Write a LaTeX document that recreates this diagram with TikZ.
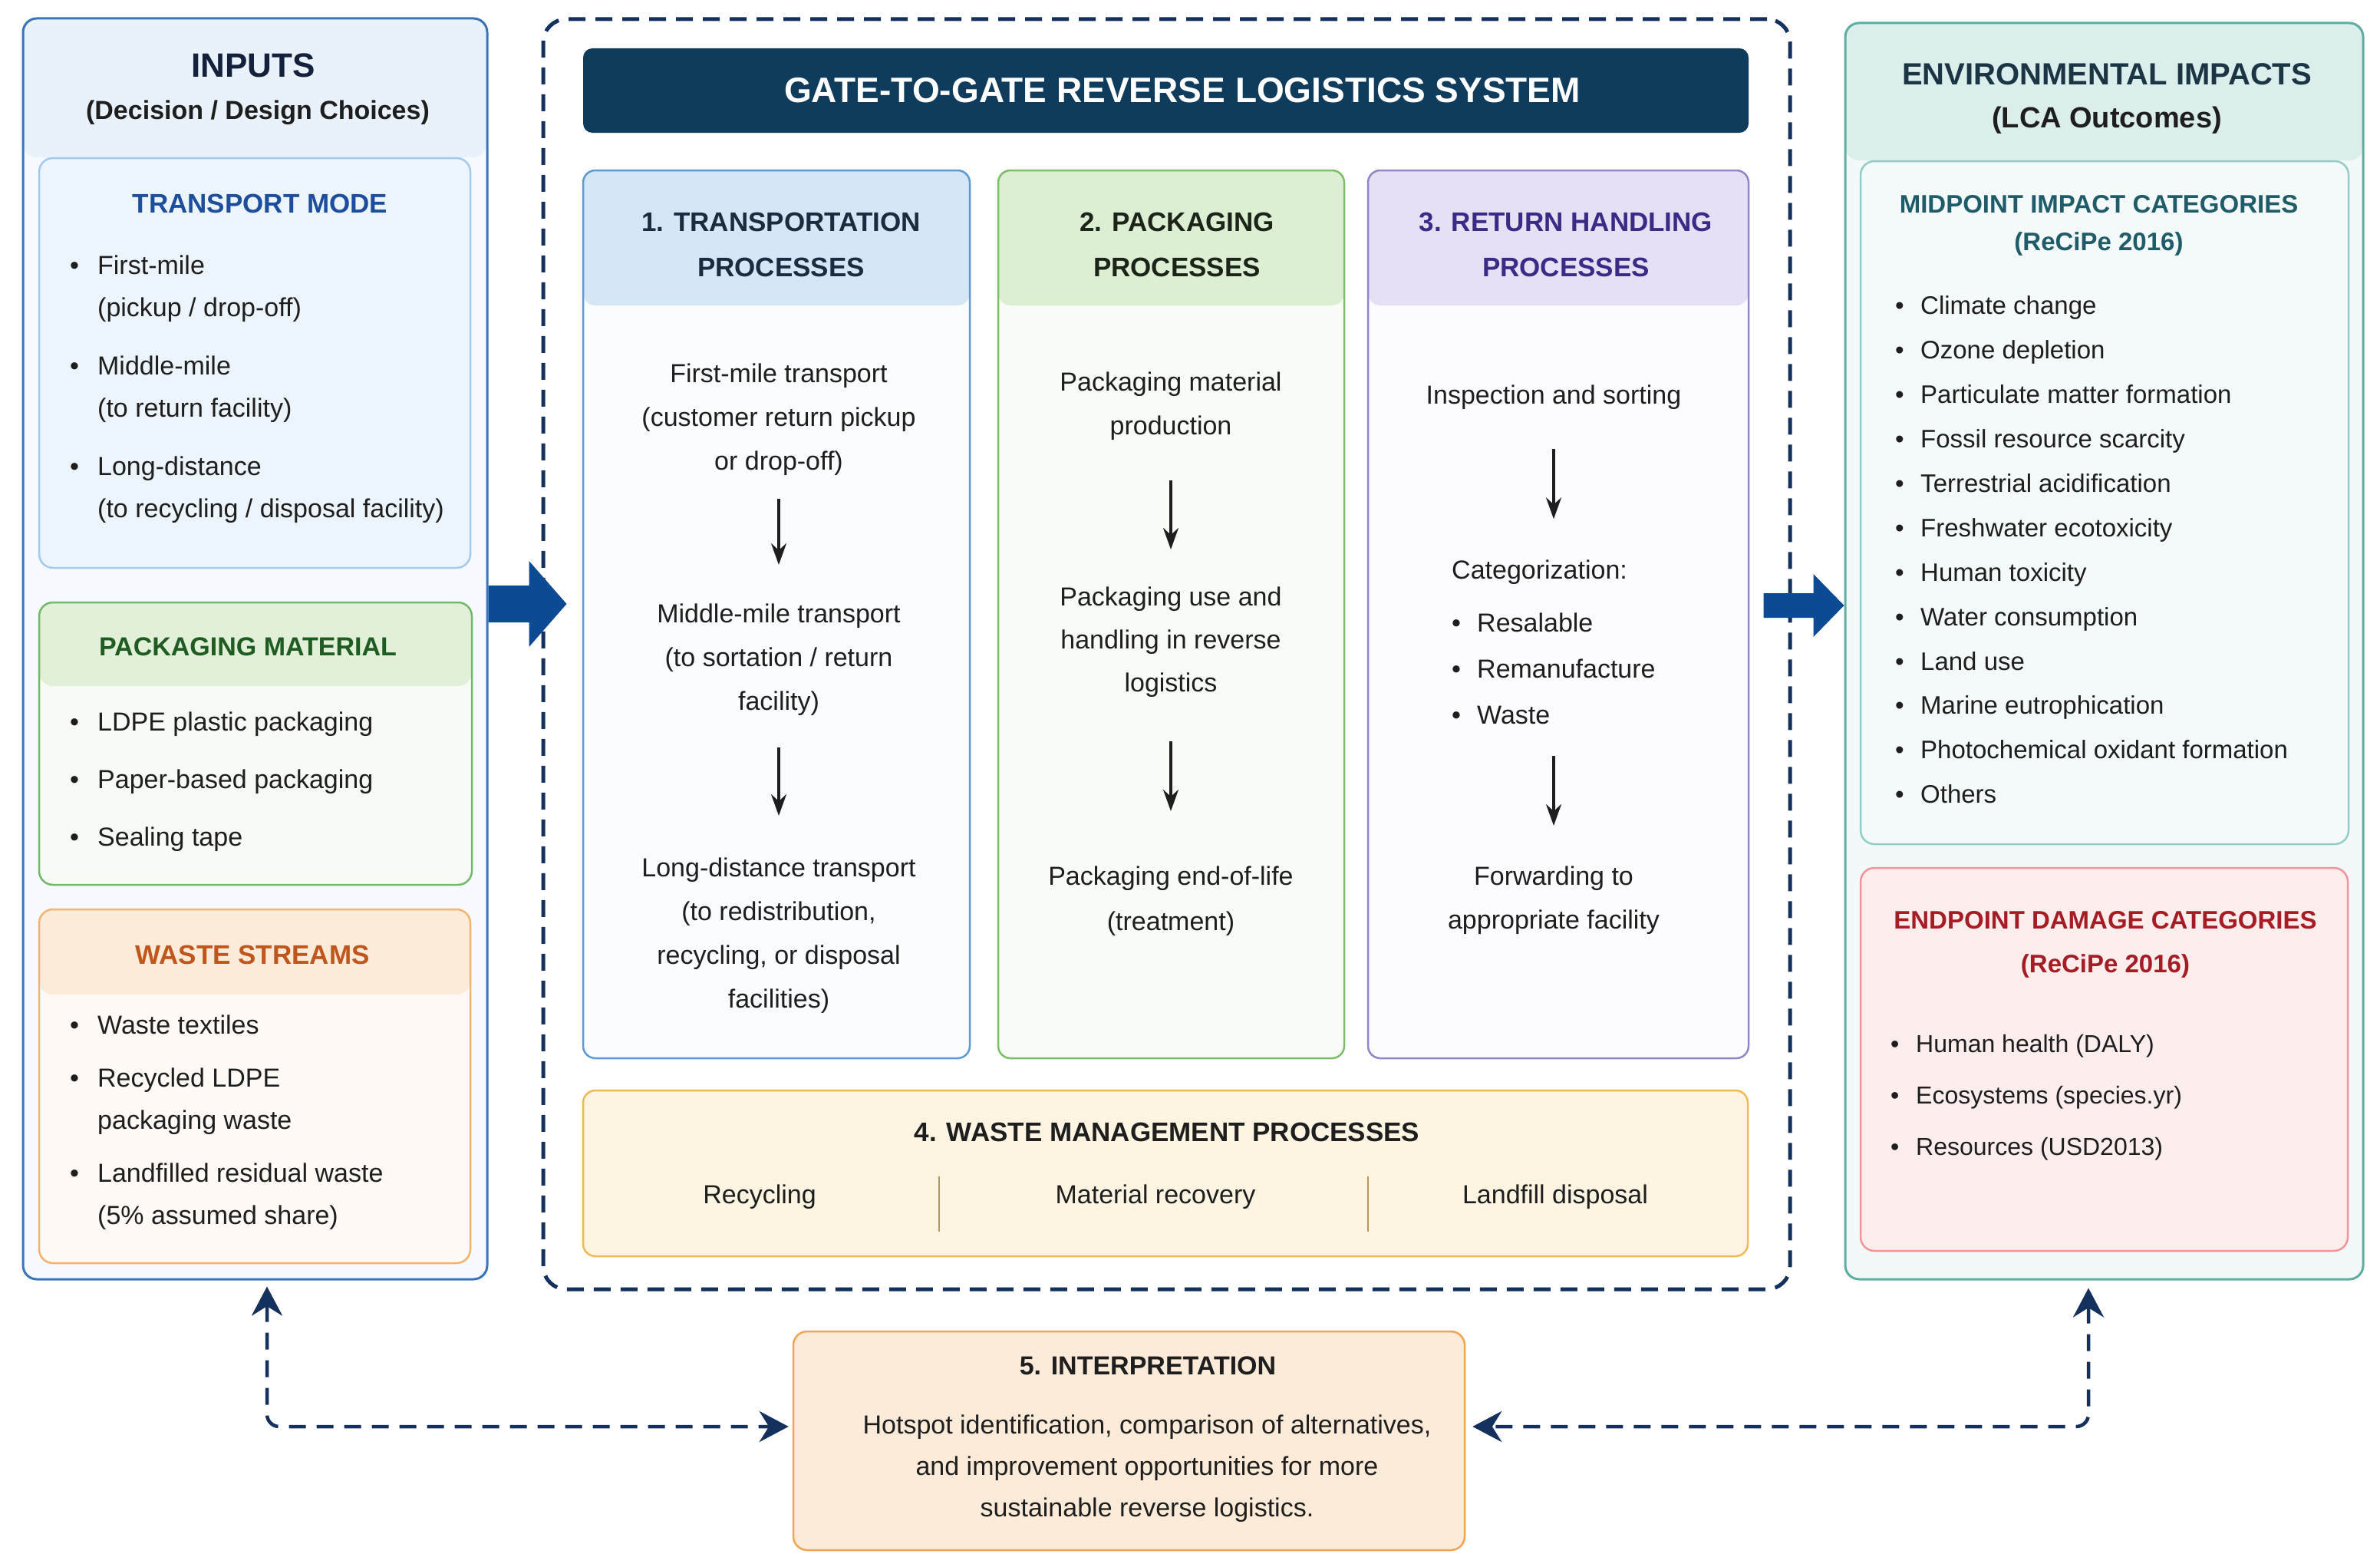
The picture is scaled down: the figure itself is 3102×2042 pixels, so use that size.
\documentclass[tikz,border=0pt]{standalone}
\usepackage{fontspec}
\setmainfont{Liberation Sans}
\usetikzlibrary{arrows.meta}

% colours
\definecolor{ink}{HTML}{1E1E1E}
\definecolor{navy}{HTML}{14305C}
\definecolor{arrowblue}{HTML}{0D4A94}
\definecolor{bannerblue}{HTML}{0F3C5D}
% inputs side
\definecolor{inEdge}{HTML}{3B74BA}
\definecolor{inFill}{HTML}{F6FAFE}
\definecolor{inHead}{HTML}{E9F2FB}
\definecolor{inTitle}{HTML}{14213D}
\definecolor{tmEdge}{HTML}{A3CBEE}
\definecolor{tmFill}{HTML}{EDF5FC}
\definecolor{tmTitle}{HTML}{1D4E9E}
\definecolor{pmEdge}{HTML}{74B86B}
\definecolor{pmHead}{HTML}{E2F0DA}
\definecolor{pmFill}{HTML}{F8FBF5}
\definecolor{pmTitle}{HTML}{1F5C22}
\definecolor{wsEdge}{HTML}{F4B46E}
\definecolor{wsHead}{HTML}{FCEBD9}
\definecolor{wsFill}{HTML}{FFFAF5}
\definecolor{wsTitle}{HTML}{C0561B}
% process columns
\definecolor{trEdge}{HTML}{5C9BD6}
\definecolor{trHead}{HTML}{D5E6F6}
\definecolor{trFill}{HTML}{FAFCFE}
\definecolor{trTitle}{HTML}{1B2B40}
\definecolor{pkEdge}{HTML}{7CBF68}
\definecolor{pkHead}{HTML}{DCEFD2}
\definecolor{pkFill}{HTML}{F9FCF6}
\definecolor{pkTitle}{HTML}{1C241A}
\definecolor{rhEdge}{HTML}{9484C8}
\definecolor{rhHead}{HTML}{E5E0F4}
\definecolor{rhFill}{HTML}{FCFBFE}
\definecolor{rhTitle}{HTML}{3B2A86}
\definecolor{wmEdge}{HTML}{F2B955}
\definecolor{wmFill}{HTML}{FDF5E2}
\definecolor{wmRule}{HTML}{B79963}
\definecolor{ipEdge}{HTML}{F3A453}
\definecolor{ipFill}{HTML}{FDEBD9}
% impacts side
\definecolor{imEdge}{HTML}{5EAEA3}
\definecolor{imFill}{HTML}{F3F9F8}
\definecolor{imHead}{HTML}{DCEEEB}
\definecolor{imTitle}{HTML}{1B3545}
\definecolor{mpEdge}{HTML}{93CEC5}
\definecolor{mpFill}{HTML}{F3FAF9}
\definecolor{mpTitle}{HTML}{1F5B69}
\definecolor{epEdge}{HTML}{F0959A}
\definecolor{epFill}{HTML}{FDEDED}
\definecolor{epTitle}{HTML}{A51C24}

\newcommand{\bitem}[1][36pt]{\makebox[#1][l]{\textbullet}}
\newcommand{\bskip}[1][36pt]{\hspace*{#1}}
\newcommand{\fs}[2]{\fontsize{#1}{#2}\selectfont}

\tikzset{
  panel/.style={draw, line width=3pt, rounded corners=18pt, inner sep=0pt},
  subbox/.style={draw, line width=2.5pt, rounded corners=18pt, inner sep=0pt},
  procbox/.style={draw, line width=2.5pt, rounded corners=16pt, inner sep=0pt},
  band/.style 2 args={path picture={\fill[#1] (path picture bounding box.north west)
      rectangle ([yshift=-#2]path picture bounding box.north east);}},
  txt/.style={font=\fs{34}{57}, text=ink, inner sep=0pt, align=center},
  ttl/.style={font=\bfseries\fs{35}{59}, inner sep=0pt, align=center},
  lst/.style={font=\fs{34}{55}, text=ink, inner sep=0pt, align=left, anchor=west},
  flow/.style={draw=ink, line width=3.5pt, -{Stealth[length=28pt,width=20pt]}},
  loopline/.style={draw=navy, line width=4.5pt, dash pattern=on 22pt off 14pt,
      rounded corners=16pt, {Stealth[length=38pt,width=40pt]}-{Stealth[length=38pt,width=40pt]}},
  bigarrow/.style={fill=arrowblue}
}

\begin{document}
\begin{tikzpicture}[x=1pt, y=-1pt]

\fill[white] (0,0) rectangle (3102,2042);
\useasboundingbox (0,0) rectangle (3102,2042);

% inputs panel

\node[panel, draw=inEdge, fill=inFill, band={inHead}{181pt},
      minimum width=605pt, minimum height=1643pt] (inputs) at (332.5,845.5) {};
\node[ttl, text=inTitle, font=\bfseries\fs{44}{50}] (inputsTitle) at (330,85) {INPUTS};
\node[ttl, text=ink, font=\bfseries\fs{34}{40}] (inputsSub) at (336,147) {(Decision / Design Choices)};

\node[subbox, draw=tmEdge, fill=tmFill,
      minimum width=562pt, minimum height=534pt] (tmode) at (332,473) {};
\node[ttl, text=tmTitle] (tmodeTitle) at (339,265) {TRANSPORT MODE};
\node[lst] (tmodeList) at (91,507.5) {\bitem First-mile\\\bskip(pickup / drop-off)\\[21pt]
  \bitem Middle-mile\\\bskip(to return facility)\\[21pt]
  \bitem Long-distance\\\bskip(to recycling / disposal facility)};

\node[subbox, draw=pmEdge, fill=pmFill, band={pmHead}{109pt},
      minimum width=564pt, minimum height=368pt] (pmat) at (333,969) {};
\node[ttl, text=pmTitle, font=\bfseries\fs{34}{40}] (pmatTitle) at (323,843) {PACKAGING MATERIAL};
\node[lst, font=\fs{34}{75}] (pmatList) at (91,1019) {\bitem LDPE plastic packaging\\
  \bitem Paper-based packaging\\\bitem Sealing tape};

\node[subbox, draw=wsEdge, fill=wsFill, band={wsHead}{111pt},
      minimum width=562pt, minimum height=461pt] (wstream) at (332,1415.5) {};
\node[ttl, text=wsTitle] (wstreamTitle) at (329,1244) {WASTE STREAMS};
\node[lst] (wstreamList) at (91,1462.5) {\bitem Waste textiles\\[14pt]
  \bitem Recycled LDPE\\\bskip packaging waste\\[14pt]
  \bitem Landfilled residual waste\\\bskip(5\% assumed share)};

% reverse logistics system

\node[draw=navy, line width=5pt, dash pattern=on 22pt off 13pt, rounded corners=30pt,
      minimum width=1625pt, minimum height=1655pt, inner sep=0pt] (system) at (1520.5,852.5) {};
\node[fill=bannerblue, rounded corners=12pt, minimum width=1519pt, minimum height=110pt,
      inner sep=0pt] (banner) at (1519.5,118) {};
\node[ttl, text=white, font=\bfseries\fs{46}{50}] (bannerText) at (1541,118)
  {GATE-TO-GATE REVERSE LOGISTICS SYSTEM};

% column 1
\node[procbox, draw=trEdge, fill=trFill, band={trHead}{176pt},
      minimum width=504pt, minimum height=1157pt] (transport) at (1012,800.5) {};
\node[ttl, text=trTitle] (transportTitle) at (1018,318.5) {1. TRANSPORTATION\\PROCESSES};
\node[txt] (trA) at (1015,547) {First-mile transport\\(customer return pickup\\or drop-off)};
\node[txt] (trB) at (1015,860) {Middle-mile transport\\(to sortation / return\\facility)};
\node[txt] (trC) at (1015,1219.5) {Long-distance transport\\(to redistribution,\\recycling, or disposal\\facilities)};
\draw[flow, shorten <=30pt, shorten >=51pt] (trA) -- (trB);
\draw[flow, shorten <=41pt, shorten >=55pt] (trB) -- (trC);

% column 2
\node[procbox, draw=pkEdge, fill=pkFill, band={pkHead}{176pt},
      minimum width=451pt, minimum height=1157pt] (packaging) at (1526.5,800.5) {};
\node[ttl, text=pkTitle] (packagingTitle) at (1534,318.5) {2. PACKAGING\\PROCESSES};
\node[txt] (pkA) at (1526,529.5) {Packaging material\\production};
\node[txt, font=\fs{34}{56}] (pkB) at (1526,837) {Packaging use and\\handling in reverse\\logistics};
\node[txt, font=\fs{34}{59}] (pkC) at (1526,1174.5) {Packaging end-of-life\\(treatment)};
\draw[flow, shorten <=52pt, shorten >=49pt] (pkA) -- (pkB);
\draw[flow, shorten <=57pt, shorten >=72pt] (pkB) -- (pkC);

% column 3
\node[procbox, draw=rhEdge, fill=rhFill, band={rhHead}{176pt},
      minimum width=496pt, minimum height=1157pt] (handling) at (2031,800.5) {};
\node[ttl, text=rhTitle] (handlingTitle) at (2041,318.5) {3. RETURN HANDLING\\PROCESSES};
\node[txt] (rhA) at (2025,518) {Inspection and sorting};
\node[lst, font=\fs{34}{60}] (rhB) at (1892,836.5) {Categorization:\\[9pt]
  \bitem[33pt]Resalable\\\bitem[33pt]Remanufacture\\\bitem[33pt]Waste};
\node[txt] (rhC) at (2025,1173.5) {Forwarding to\\appropriate facility};
\draw[flow, shorten <=51pt, shorten >=53pt] (rhA.south) -- (rhA.south |- rhB.north);
\draw[flow, shorten <=41pt, shorten >=53pt] (rhC.north |- rhB.south) -- (rhC.north);

% waste management row
\node[procbox, draw=wmEdge, fill=wmFill,
      minimum width=1518pt, minimum height=216pt] (wastemgmt) at (1519,1529) {};
\node[ttl, text=ink] (wastemgmtTitle) at (1521,1475) {4. WASTE MANAGEMENT PROCESSES};
\node[txt] (wmA) at (990,1560) {Recycling};
\node[txt] (wmB) at (1506,1560) {Material recovery};
\node[txt] (wmC) at (2027,1560) {Landfill disposal};
\draw[wmRule, line width=2pt] (1224,1533) -- (1224,1605);
\draw[wmRule, line width=2pt] (1783,1533) -- (1783,1605);

% impacts panel

\node[panel, draw=imEdge, fill=imFill, band={imHead}{179pt},
      minimum width=675pt, minimum height=1637pt] (impacts) at (2742.5,848.5) {};
\node[ttl, text=imTitle, font=\bfseries\fs{40}{46}] (impactsTitle) at (2746,97) {ENVIRONMENTAL IMPACTS};
\node[ttl, text=ink, font=\bfseries\fs{38}{44}] (impactsSub) at (2746,157) {(LCA Outcomes)};

\node[subbox, draw=mpEdge, fill=mpFill,
      minimum width=636pt, minimum height=890pt] (midpoint) at (2743,655) {};
\node[ttl, text=mpTitle, font=\bfseries\fs{33}{49}] (midpointTitle) at (2735.5,293.5)
  {MIDPOINT IMPACT CATEGORIES\\(ReCiPe 2016)};
\node[lst, font=\fs{33}{57.9}] (midpointList) at (2470,716.5) {\bitem[33pt]Climate change\\
  \bitem[33pt]Ozone depletion\\\bitem[33pt]Particulate matter formation\\
  \bitem[33pt]Fossil resource scarcity\\\bitem[33pt]Terrestrial acidification\\
  \bitem[33pt]Freshwater ecotoxicity\\\bitem[33pt]Human toxicity\\
  \bitem[33pt]Water consumption\\\bitem[33pt]Land use\\
  \bitem[33pt]Marine eutrophication\\\bitem[33pt]Photochemical oxidant formation\\
  \bitem[33pt]Others};

\node[subbox, draw=epEdge, fill=epFill,
      minimum width=635pt, minimum height=499pt] (endpoint) at (2742.5,1380.5) {};
\node[ttl, text=epTitle, font=\bfseries\fs{33}{57}] (endpointTitle) at (2744,1230.5)
  {ENDPOINT DAMAGE CATEGORIES\\(ReCiPe 2016)};
\node[lst, font=\fs{32}{67}] (endpointList) at (2464,1430.5) {\bitem[33pt]Human health (DALY)\\
  \bitem[33pt]Ecosystems (species.yr)\\\bitem[33pt]Resources (USD2013)};

% interpretation

\node[subbox, draw=ipEdge, fill=ipFill,
      minimum width=875pt, minimum height=285pt] (interp) at (1471.5,1877.5) {};
\node[ttl, text=ink, font=\bfseries\fs{34}{40}] (interpTitle) at (1496,1780) {5. INTERPRETATION};
\node[txt, font=\fs{34}{54}] (interpText) at (1495,1913.5) {Hotspot identification, comparison of alternatives,\\
  and improvement opportunities for more\\sustainable reverse logistics.};

% flows between blocks

\fill[bigarrow] ([yshift=82.5pt]inputs.east) -- ++(53,0) -- ++(0,-32) -- ++(49,56)
  -- ++(-49,56) -- ++(0,-32) -- ++(-53,0) -- cycle;
\fill[bigarrow] ([yshift=59.5pt]impacts.west) -- ++(-40,-41) -- ++(0,25) -- ++(-65,0)
  -- ++(0,32) -- ++(65,0) -- ++(0,25) -- cycle;

\draw[loopline, shorten <=8pt, shorten >=5pt] ([xshift=15.5pt]inputs.south) |- ([yshift=18.5pt]interp.west);
\draw[loopline, shorten <=10pt, shorten >=9pt] ([xshift=-20.5pt]impacts.south) |- ([yshift=18.5pt]interp.east);

\end{tikzpicture}
\end{document}
